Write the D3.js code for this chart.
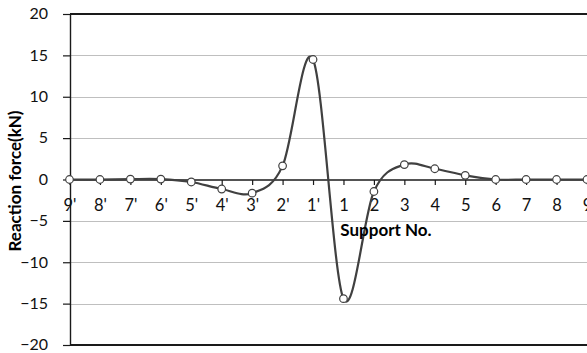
<!DOCTYPE html>
<html>
<head>
<meta charset="utf-8">
<script src="https://cdn.jsdelivr.net/npm/d3@7"></script>
<style>
  html, body { margin: 0; padding: 0; background: #fff; }
  svg { display: block; font-family: Lato, "Open Sans", sans-serif; }
</style>
</head>
<body>
<div id="chart"></div>
<script>
// support labels along the beam, left to right
const supports = ["9'", "8'", "7'", "6'", "5'", "4'", "3'", "2'", "1'",
                  "1", "2", "3", "4", "5", "6", "7", "8", "9"];
// reaction force at each support (kN)
const reaction = [0, 0, 0.05, 0.05, -0.3, -1.15, -1.65, 1.65, 14.5,
                  -14.4, -1.45, 1.8, 1.3, 0.5, 0, 0, 0, 0];
const yTicks = [-20, -15, -10, -5, 0, 5, 10, 15, 20];

const W = 587, H = 353;
const plot = { left: 70, right: 587, top: 14, bottom: 345 };

const svg = d3.select('#chart').append('svg')
    .attr('width', W)
    .attr('height', H);

const x = d3.scalePoint()
    .domain(supports)
    .range([plot.left - 0.5, plot.right]);

const y = d3.scaleLinear()
    .domain([-20, 20])
    .range([plot.bottom, plot.top]);

// horizontal gridlines
svg.append('g')
    .selectAll('line')
    .data(yTicks.filter(d => d !== 0 && Math.abs(d) !== 20))
    .join('line')
    .attr('x1', plot.left)
    .attr('x2', plot.right)
    .attr('y1', d => Math.round(y(d)) + 0.5)
    .attr('y2', d => Math.round(y(d)) + 0.5)
    .attr('stroke', '#bfbfbf')
    .attr('stroke-width', 1);

// plot area border (top / bottom)
svg.append('g')
    .selectAll('line')
    .data([20, -20])
    .join('line')
    .attr('x1', plot.left)
    .attr('x2', plot.right)
    .attr('y1', d => Math.round(y(d)))
    .attr('y2', d => Math.round(y(d)))
    .attr('stroke', '#1a1a1a')
    .attr('stroke-width', 1.8);

// y axis: line, outward ticks, labels
const yAxis = d3.axisLeft(y)
    .tickValues(yTicks)
    .tickSize(7)
    .tickSizeOuter(0)
    .tickPadding(15);

svg.append('g')
    .attr('transform', `translate(${plot.left},0)`)
    .call(yAxis)
    .call(g => g.select('.domain').attr('stroke', '#1a1a1a').attr('stroke-width', 1.4))
    .call(g => g.selectAll('.tick line').attr('stroke', '#1a1a1a').attr('stroke-width', 1.2))
    .selectAll('text')
    .attr('font-size', 16)
    .attr('dy', '0.3em')
    .attr('font-family', 'Lato, sans-serif')
    .attr('fill', '#111');

// x axis sits on the zero line
const xAxis = d3.axisBottom(x)
    .tickSize(5)
    .tickSizeOuter(0)
    .tickPadding(14);

svg.append('g')
    .attr('transform', `translate(0,${Math.round(y(0))})`)
    .call(xAxis)
    .call(g => g.select('.domain')
        .attr('stroke', '#1a1a1a')
        .attr('stroke-width', 1.4)
        .attr('d', `M${plot.left},0H${plot.right}`))
    .call(g => g.selectAll('.tick line').attr('stroke', '#1a1a1a').attr('stroke-width', 1.2))
    .selectAll('text')
    .attr('font-size', 16.5)
    .attr('font-family', 'Lato, sans-serif')
    .attr('fill', '#111');

// smoothed series line
const line = d3.line()
    .x((d, i) => x(supports[i]))
    .y(d => y(d))
    .curve(d3.curveCardinal.tension(0));

svg.append('path')
    .datum(reaction)
    .attr('d', line)
    .attr('fill', 'none')
    .attr('stroke', '#404040')
    .attr('stroke-width', 2.2);

// markers
svg.append('g')
    .selectAll('circle')
    .data(reaction)
    .join('circle')
    .attr('cx', (d, i) => x(supports[i]))
    .attr('cy', d => y(d))
    .attr('r', 3.8)
    .attr('fill', '#fff')
    .attr('stroke', '#404040')
    .attr('stroke-width', 1.2);

// axis titles
svg.append('text')
    .attr('transform', `translate(21,181) rotate(-90)`)
    .attr('text-anchor', 'middle')
    .attr('font-size', 17)
    .attr('font-weight', 'bold')
    .attr('fill', '#000')
    .text('Reaction force(kN)');

svg.append('text')
    .attr('x', 386)
    .attr('y', 236)
    .attr('text-anchor', 'middle')
    .attr('font-size', 17)
    .attr('font-weight', 'bold')
    .attr('fill', '#000')
    .text('Support No.');
</script>
</body>
</html>
